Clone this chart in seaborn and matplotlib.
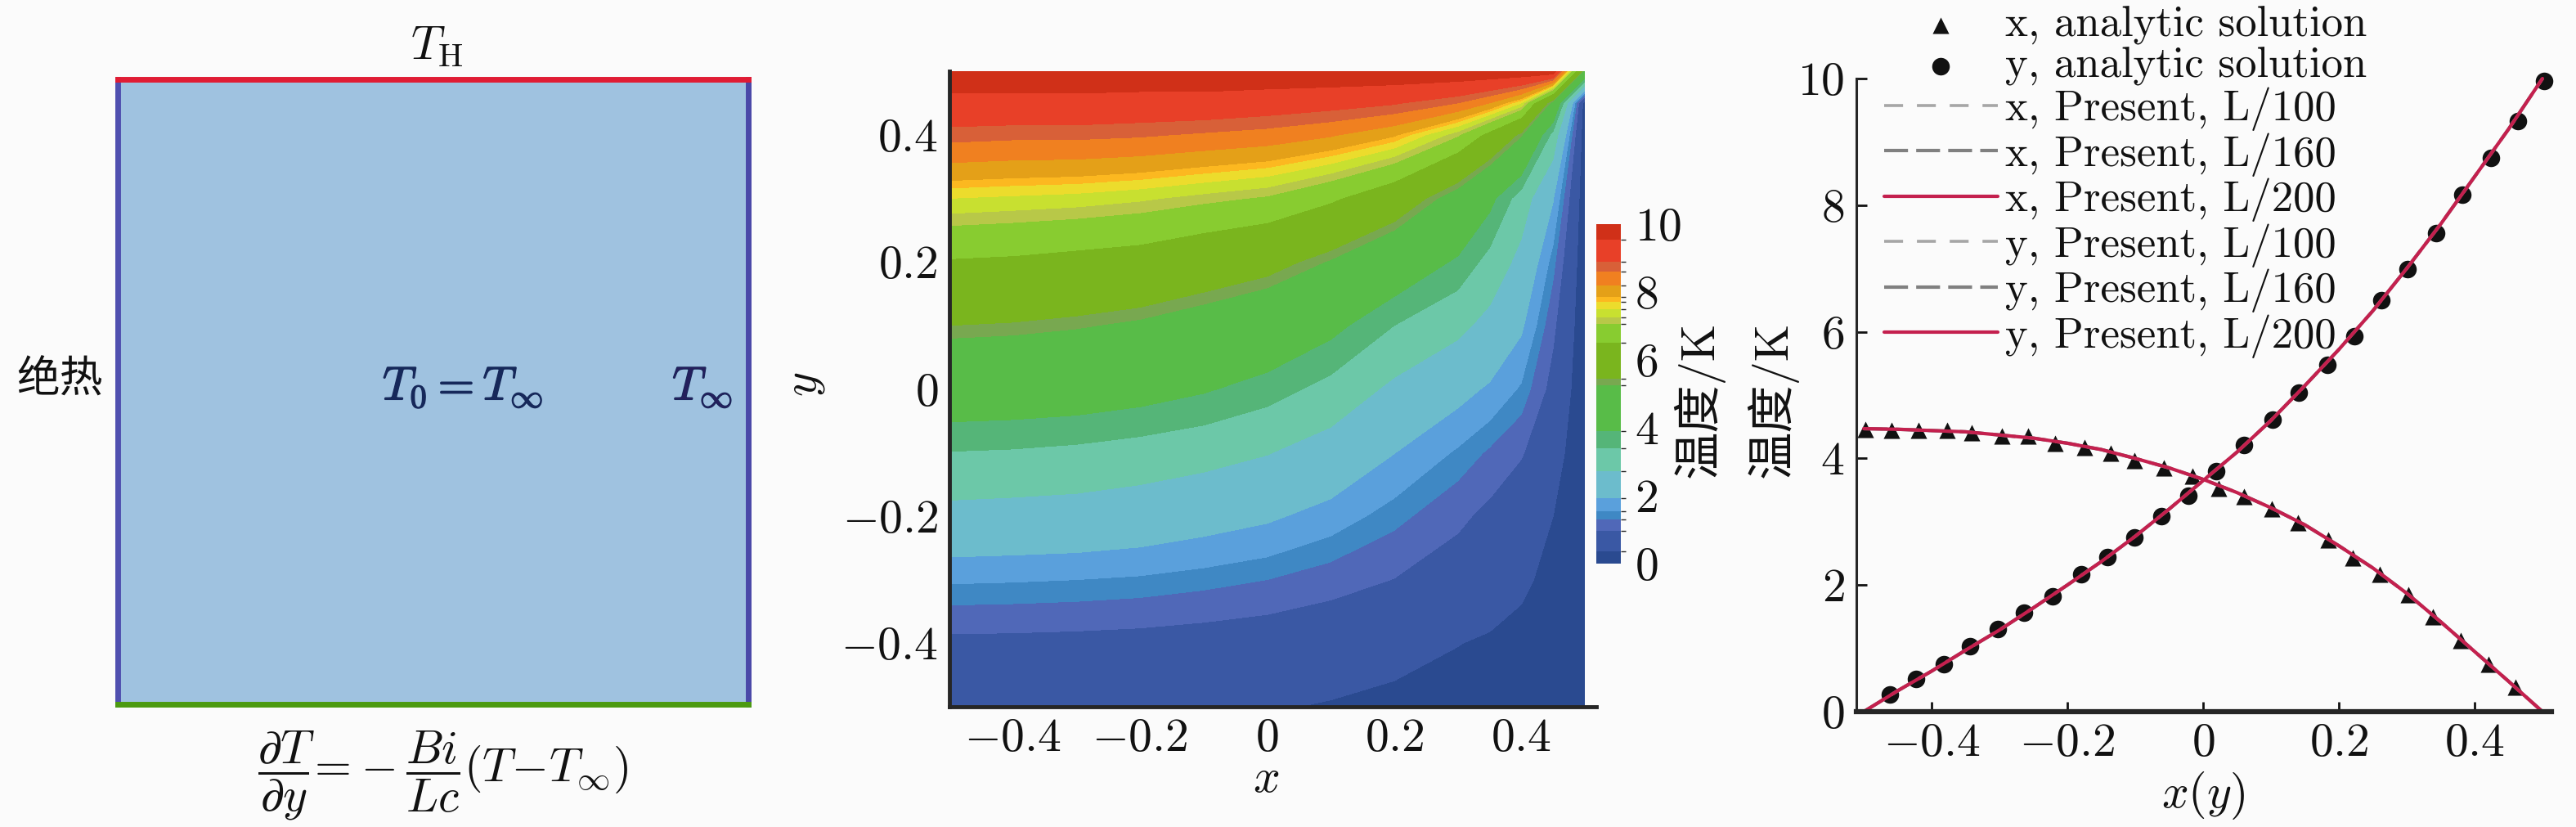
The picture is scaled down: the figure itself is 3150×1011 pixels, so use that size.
import numpy as np
import matplotlib
matplotlib.use("Agg")
import matplotlib.pyplot as plt
import matplotlib.patheffects as pe
from matplotlib.colors import ListedColormap, BoundaryNorm
import seaborn as sns

# ---------- data ----------
# middle panel: temperature on a grid
field_x = [-0.5, -0.4, -0.3, -0.2, -0.1, 0.0, 0.1, 0.2, 0.3, 0.35, 0.4, 0.45, 0.5]
field_y = [-0.5, -0.4, -0.3, -0.2, -0.1, 0.0, 0.1, 0.2, 0.3, 0.4, 0.45, 0.5]
field_T = [
    [0.45, 0.45, 0.45, 0.45, 0.42, 0.38, 0.32, 0.26, 0.18, 0.14, 0.10, 0.05, 0.0],
    [0.85, 0.84, 0.82, 0.79, 0.74, 0.68, 0.60, 0.48, 0.36, 0.30, 0.24, 0.14, 0.0],
    [1.60, 1.58, 1.55, 1.50, 1.41, 1.30, 1.13, 0.95, 0.72, 0.58, 0.42, 0.24, 0.0],
    [2.50, 2.46, 2.42, 2.32, 2.16, 2.00, 1.74, 1.40, 1.05, 0.85, 0.62, 0.35, 0.0],
    [3.38, 3.34, 3.26, 3.13, 2.97, 2.75, 2.40, 1.93, 1.50, 1.25, 1.00, 0.55, 0.0],
    [4.46, 4.42, 4.35, 4.20, 3.97, 3.65, 3.20, 2.57, 2.10, 1.85, 1.50, 0.80, 0.0],
    [5.45, 5.40, 5.30, 5.15, 4.90, 4.60, 4.10, 3.40, 2.90, 2.50, 2.00, 1.05, 0.0],
    [6.45, 6.40, 6.30, 6.20, 5.95, 5.70, 5.20, 4.50, 3.80, 3.20, 2.50, 1.40, 0.0],
    [7.50, 7.45, 7.40, 7.30, 7.15, 7.00, 6.60, 6.00, 4.90, 4.10, 3.10, 1.95, 0.0],
    [8.75, 8.70, 8.70, 8.65, 8.55, 8.45, 8.25, 7.90, 7.10, 6.30, 5.30, 3.20, 0.0],
    [9.35, 9.35, 9.35, 9.30, 9.30, 9.20, 9.10, 8.95, 8.60, 8.20, 7.50, 5.00, 0.0],
    [10.0, 10.0, 10.0, 10.0, 10.0, 10.0, 10.0, 10.0, 10.0, 10.0, 10.0, 10.0, 5.0],
]
band_levels = [0, 0.35, 0.96, 1.3, 1.55, 1.92, 2.72, 3.4, 3.9, 5.25, 5.45, 6.5,
               7.05, 7.25, 7.5, 7.7, 7.85, 8.2, 8.6, 8.9, 9.55, 10]
band_colors = ["#2a4a90", "#3a58a4", "#5068b8", "#3f88c4", "#5aa0dc", "#6cbccc",
               "#6cc8a8", "#55b578", "#58bc48", "#78a850", "#7ab51e", "#88cc30",
               "#b8c848", "#c8e030", "#ecdc2c", "#fcb820", "#e4a018", "#f08020",
               "#d86038", "#e84028", "#d03018"]

# right panel: analytic markers
tri_pos = [-0.498, -0.459, -0.419, -0.377, -0.341, -0.296, -0.258, -0.218, -0.175,
           -0.136, -0.101, -0.058, -0.016, 0.023, 0.06, 0.101, 0.14, 0.184, 0.22,
           0.26, 0.302, 0.339, 0.38, 0.421, 0.46]
tri_T = [4.46, 4.44, 4.44, 4.44, 4.40, 4.35, 4.35, 4.24, 4.17, 4.08, 3.97, 3.85, 3.72,
         3.53, 3.40, 3.20, 2.98, 2.71, 2.43, 2.17, 1.85, 1.50, 1.12, 0.75, 0.39]
dot_pos = [-0.461, -0.423, -0.382, -0.343, -0.302, -0.264, -0.222, -0.18, -0.141,
           -0.101, -0.062, -0.022, 0.019, 0.06, 0.102, 0.141, 0.183, 0.223, 0.263,
           0.301, 0.343, 0.382, 0.424, 0.464, 0.502]
dot_T = [0.27, 0.52, 0.75, 1.04, 1.30, 1.56, 1.82, 2.17, 2.44, 2.75, 3.09, 3.41, 3.80,
         4.21, 4.61, 5.04, 5.48, 5.93, 6.50, 6.99, 7.56, 8.17, 8.75, 9.33, 9.96]

# right panel: computed curves
line_pos = [-0.5, -0.45, -0.4, -0.35, -0.3, -0.25, -0.2, -0.15, -0.1, -0.05, 0.0,
            0.05, 0.1, 0.15, 0.2, 0.25, 0.3, 0.35, 0.4, 0.45, 0.5]
line_x_T = [4.47, 4.46, 4.44, 4.42, 4.37, 4.32, 4.24, 4.14, 4.0, 3.85, 3.67,
            3.46, 3.22, 2.95, 2.62, 2.27, 1.87, 1.42, 0.95, 0.48, 0.0]
line_y_T = [0.0, 0.33, 0.64, 0.97, 1.29, 1.64, 2.0, 2.37, 2.77, 3.2, 3.65,
            4.1, 4.6, 5.15, 5.72, 6.33, 7.0, 7.7, 8.45, 9.2, 10.0]

ticks_pos = [-0.4, -0.2, 0, 0.2, 0.4]
ticks_pos_labels = ["$-0.4$", "$-0.2$", "$0$", "$0.2$", "$0.4$"]
ticks_T = [0, 2, 4, 6, 8, 10]
ticks_T_labels = ["$0$", "$2$", "$4$", "$6$", "$8$", "$10$"]

# ---------- style ----------
W, H = 3150, 1011
BG = "#fbfbfb"
sns.set_theme(style="ticks")
plt.rcParams["font.family"] = ["cmr10", "Noto Sans CJK SC"]
plt.rcParams["mathtext.fontset"] = "cm"
plt.rcParams["axes.unicode_minus"] = False
FS = 41.5


def px_axes(left, top, right, bottom):
    return fig.add_axes([left / W, 1 - bottom / H, (right - left) / W, (bottom - top) / H])


def px_text(x, y, s, **kw):
    kw.setdefault("fontsize", FS)
    kw.setdefault("color", "#111111")
    fig.text(x / W, 1 - y / H, s, ha="center", va="center", **kw)


fig = plt.figure(figsize=(W / 100, H / 100), dpi=100, facecolor=BG)

# ---------- left panel: the boundary conditions ----------
ax0 = px_axes(144, 97, 915, 861)
ax0.set_facecolor("#9fc2e0")
ax0.set_xticks([])
ax0.set_yticks([])
for side, col in [("left", "#5050b0"), ("right", "#4a48a8"),
                  ("bottom", "#4c9a10"), ("top", "#e01c34")]:
    ax0.spines[side].set_color(col)
    ax0.spines[side].set_linewidth(5)
    ax0.spines[side].set_visible(True)

thick = [pe.withStroke(linewidth=1.0, foreground="#16285a")]
px_text(534, 57, r"$T_{\mathrm{H}}$")
px_text(73, 464, "绝热", family=["Noto Sans CJK SC"], fontsize=38)
px_text(566, 474, r"$T_0 = T_\infty$", color="#16285a", path_effects=thick)
px_text(859, 474, r"$T_\infty$", color="#241f5c", path_effects=thick)
px_text(542, 948, r"$\dfrac{\partial T}{\partial y}\!=\!-\dfrac{Bi}{Lc}(T\!-\!T_\infty)$")

# ---------- middle panel: temperature field ----------
ax1 = px_axes(1161, 87, 1938, 864)
cmap = ListedColormap(band_colors)
norm = BoundaryNorm(band_levels, cmap.N)
cf = ax1.contourf(field_x, field_y, np.array(field_T), levels=band_levels, cmap=cmap, norm=norm)
ax1.set_xlim(-0.5, 0.5)
ax1.set_ylim(-0.5, 0.5)
sns.despine(ax=ax1)
ax1.set_facecolor(BG)
ax1.spines["left"].set_linewidth(3.5)
ax1.spines["bottom"].set_linewidth(3.5)
ax1.spines["bottom"].set_bounds(-0.5, 0.518)
ax1.set_xticks(ticks_pos, ticks_pos_labels)
ax1.set_yticks(ticks_pos, ticks_pos_labels)
ax1.tick_params(direction="in", length=14, width=2.2, labelsize=FS, pad=10, color="#111111", labelcolor="#111111")
px_text(1548, 953, "$x$")
px_text(985, 470, "$y$", rotation=90)

cax = px_axes(1952, 274, 1982, 689)
cb = fig.colorbar(cf, cax=cax, spacing="proportional", ticks=ticks_T)
cb.ax.set_yticklabels(ticks_T_labels)
cb.ax.tick_params(length=0, labelsize=FS, pad=12, labelcolor="#111111")
cb.outline.set_visible(False)
px_text(2077, 488, "温度/K", rotation=90, fontsize=42)

# ---------- right panel: profiles ----------
ax2 = px_axes(2269.5, 96, 3120, 870)
ax2.set_facecolor(BG)
sns.scatterplot(x=tri_pos, y=tri_T, marker="^", s=210, color="#111111", linewidth=0,
                clip_on=False, label="x, analytic solution", ax=ax2)
sns.scatterplot(x=dot_pos, y=dot_T, marker="o", s=240, color="#111111", linewidth=0,
                clip_on=False, label="y, analytic solution", ax=ax2)

curve_styles = [("L/100", "#a6a6a6", (0, (6.4, 4.7)), 2.6),
                ("L/160", "#808080", (0, (7, 2.4)), 3.0),
                ("L/200", "#c4204e", "-", 3.0)]
for name, values in [("x", line_x_T), ("y", line_y_T)]:
    for res, col, dash, lw in curve_styles:
        sns.lineplot(x=line_pos, y=values, color=col, linestyle=dash, linewidth=lw,
                     estimator=None, sort=False, clip_on=False,
                     label=f"{name}, Present, {res}", ax=ax2)

ax2.set_xlim((2269.5 - 2694) / 830, (3120 - 2694) / 830)
ax2.set_ylim(0, 10)
sns.despine(ax=ax2)
ax2.spines["left"].set_linewidth(2.2)
ax2.spines["bottom"].set_linewidth(4.5)
ax2.set_xticks(ticks_pos, ticks_pos_labels)
ax2.set_yticks(ticks_T, ticks_T_labels)
ax2.tick_params(direction="in", length=9, width=2, labelsize=FS, pad=10, color="#111111", labelcolor="#111111")
px_text(2694, 973, "$x(y)$")
px_text(2167, 488, "温度/K", rotation=90, fontsize=42)

handles, labels = ax2.get_legend_handles_labels()
order = ["x, analytic solution", "y, analytic solution",
         "x, Present, L/100", "x, Present, L/160", "x, Present, L/200",
         "y, Present, L/100", "y, Present, L/160", "y, Present, L/200"]
by_label = dict(zip(labels, handles))
ax2.legend([by_label[k] for k in order], order, loc="upper left",
           bbox_to_anchor=(2304 / W, 1 - 8 / H), bbox_transform=fig.transFigure,
           frameon=False, fontsize=38, handlelength=2.63, handletextpad=0.17,
           labelspacing=0.037, borderpad=0, borderaxespad=0, scatterpoints=1,
           labelcolor="#111111")

fig.savefig("out.png", dpi=100, facecolor=BG)
